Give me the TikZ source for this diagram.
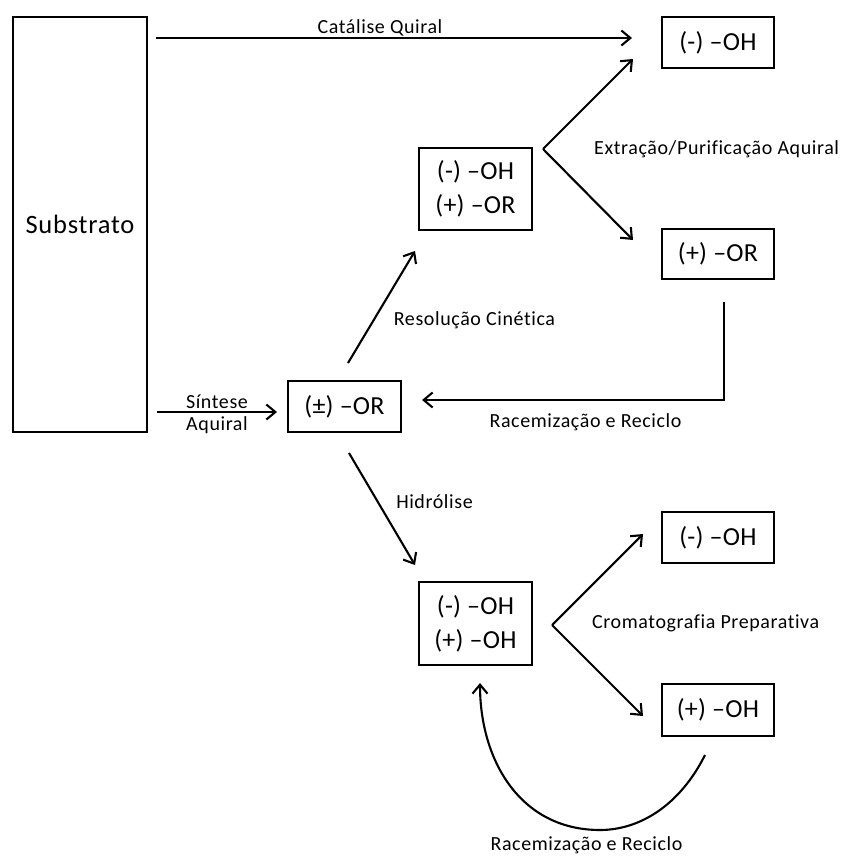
\documentclass[tikz,border=0pt]{standalone}
\usepackage{fontspec}
\setmainfont[Ligatures=NoCommon]{Carlito}
\usetikzlibrary{arrows.meta}
\begin{document}
\begin{tikzpicture}[x=1pt,y=-1pt,
  box/.style={draw, line width=2.4pt, inner sep=0pt, align=center,
    minimum width=112pt, font=\fontsize{26}{34}\selectfont\addfontfeature{LetterSpace=1}},
  lbl/.style={inner sep=0pt, font=\fontsize{20}{24}\selectfont\addfontfeature{LetterSpace=3}},
  conn/.style={line width=2.1pt},
  arr/.style={conn, -{Straight Barb[length=9pt,width=15pt,line width=2.1pt]}}]
\useasboundingbox (0,0) rectangle (843,856);

% boxes
\node[box, minimum width=134pt, minimum height=415pt,
  font=\fontsize{26.5}{32}\selectfont\addfontfeature{LetterSpace=3}]
  (sub) at (80,224.5) {Substrato};
\node[box, minimum height=51pt] (topOH) at (718,42.5) {(-) –OH};
\node[box, minimum width=113pt, minimum height=82pt] (mixA) at (475.5,189) {(-) –OH\\(+) –OR};
\node[box, minimum height=50pt] (estOR) at (718,254) {(+) –OR};
\node[box, minimum width=113pt, minimum height=51pt] (rac) at (344.5,406.5) {(±) –OR};
\node[box, minimum height=51pt] (botOH) at (718,537.5) {(-) –OH};
\node[box, minimum width=113pt, minimum height=83pt] (mixB) at (475.5,623.5) {(-) –OH\\(+) –OH};
\node[box, minimum height=52pt] (plusOH) at (718,710) {(+) –OH};

% connector end points
\coordinate (cqA) at (156,38);   \coordinate (cqB) at (632,38);
\coordinate (saA) at (157,412);  \coordinate (saB) at (277,412);
\coordinate (rcA) at (348,363);  \coordinate (rcB) at (415,251);
\coordinate (forkA) at (543,149);
\coordinate (forkAu) at (633,59); \coordinate (forkAd) at (633,240);
\coordinate (rrA) at (724,302);  \coordinate (rrC) at (724,400); \coordinate (rrB) at (422,400);
\coordinate (hyA) at (349,453);  \coordinate (hyB) at (415,565);
\coordinate (forkB) at (552,625);
\coordinate (forkBu) at (643,534); \coordinate (forkBd) at (643,716);
\coordinate (loopA) at (705,755); \coordinate (loopM) at (600,830); \coordinate (loopB) at (480,683);

% connectors
\draw[arr] (cqA) -- (cqB);
\draw[arr] (saA) -- (saB);
\draw[arr] (rcA) -- (rcB);
\draw[arr] (forkA) -- (forkAu);
\draw[arr] (forkA) -- (forkAd);
\draw[arr] (rrA) -- (rrC) -- (rrB);
\draw[arr] (hyA) -- (hyB);
\draw[arr] (forkB) -- (forkBu);
\draw[arr] (forkB) -- (forkBd);
\draw[arr] (loopA) .. controls (680,805) and (640,830) .. (loopM)
  .. controls (520,830) and (480,760) .. (loopB);

% labels
\node[lbl] (lcq) at (380,28) {Catálise Quiral};
\node[lbl] (lsa1) at (217,402) {Síntese};
\node[lbl] (lsa2) at (217,425) {Aquiral};
\node[lbl] (lrc) at (474.5,320) {Resolução Cinética};
\node[lbl, anchor=west] (lex) at (594,149) {Extração/Purificação Aquiral};
\node[lbl] (lrr) at (585.5,422) {Racemização e Reciclo};
\node[lbl] (lhy) at (434.5,502) {Hidrólise};
\node[lbl, anchor=west] (lcp) at (592,623) {Cromatografia Preparativa};
\node[lbl] (lrr2) at (586.5,845) {Racemização e Reciclo};
\end{tikzpicture}
\end{document}
